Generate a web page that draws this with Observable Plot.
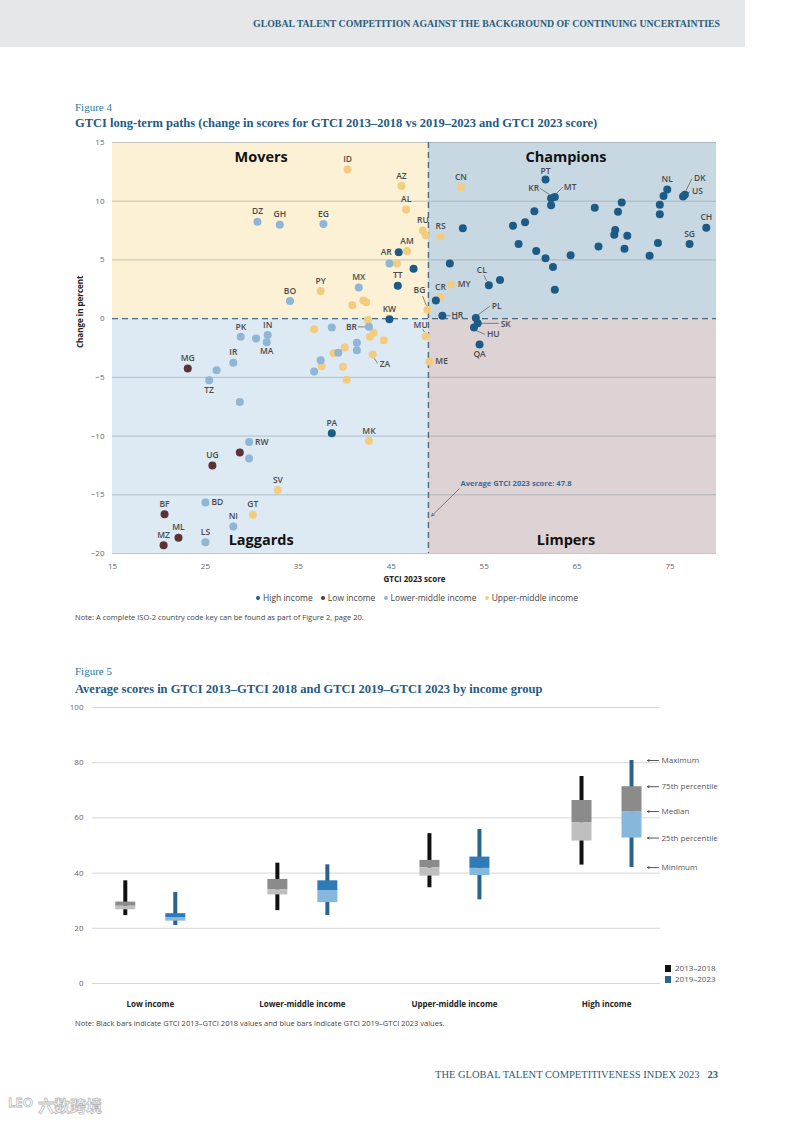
<!DOCTYPE html>
<html><head><meta charset="utf-8">
<script src="https://cdn.jsdelivr.net/npm/d3@7"></script>
<script src="https://cdn.jsdelivr.net/npm/@observablehq/plot@0.6"></script>
<style>
body{margin:0;width:793px;height:1122px;position:relative;background:#fff;font-family:"Open Sans",sans-serif;overflow:hidden}
.abs{position:absolute;white-space:nowrap;line-height:1}
.serif{font-family:"Liberation Serif",serif}
.fig{color:#2b7a9e;font-size:11px}
.ttl{color:#1f5a85;font-weight:700;font-size:12.5px}
.note{font-size:7.5px;color:#444}
.leg{font-size:8.5px;color:#444}
.leg i{display:inline-block;width:4px;height:4px;border-radius:50%;margin:0 3px 1px 6px;vertical-align:middle}
svg{overflow:visible}
</style></head><body>
<div class="abs" style="left:0;top:0;width:745px;height:47px;background:#e6e7e8"></div>
<div class="abs serif" style="right:73px;top:19px;font-size:9.8px;color:#2b5d7d;font-weight:700">GLOBAL TALENT COMPETITION AGAINST THE BACKGROUND OF CONTINUING UNCERTAINTIES</div>

<div class="abs serif fig" style="left:75px;top:102px">Figure 4</div>
<div class="abs serif ttl" style="left:75px;top:117px">GTCI long-term paths (change in scores for GTCI 2013–2018 vs 2019–2023 and GTCI 2023 score)</div>
<div id="scatter" class="abs" style="left:0;top:135px"></div>
<div id="legend1" class="abs leg" style="left:0;width:828px;top:594px;text-align:center"></div>
<div class="abs note" style="left:75px;top:614px">Note: A complete ISO-2 country code key can be found as part of Figure 2, page 20.</div>

<div class="abs serif fig" style="left:75px;top:666px">Figure 5</div>
<div class="abs serif ttl" style="left:75px;top:683px">Average scores in GTCI 2013–GTCI 2018 and GTCI 2019–GTCI 2023 by income group</div>
<div id="box" class="abs" style="left:0;top:698px"></div>
<div id="legend2" class="abs" style="left:665px;top:962px;font-size:8px;color:#555;line-height:11px"></div>
<div class="abs note" style="left:75px;top:1020px">Note: Black bars indicate GTCI 2013–GTCI 2018 values and blue bars indicate GTCI 2019–GTCI 2023 values.</div>

<div class="abs serif" style="right:75px;top:1070px;font-size:10.5px;color:#2b5d7d">THE GLOBAL TALENT COMPETITIVENESS INDEX 2023 &nbsp;&nbsp;<b>23</b></div>
<div class="abs" style="left:38px;top:1097px;font-family:'Noto Sans CJK SC';font-size:16px;color:#fff;-webkit-text-stroke:0.8px #bbb;font-weight:700">六数跨境</div>
<div class="abs" style="left:8px;top:1096px;font-size:13px;color:#fff;-webkit-text-stroke:0.8px #bbb;font-weight:700">LEO</div>

<script>
// ---------- Figure 4 data: [ISO code (blank = unlabelled), GTCI 2023 score, change %, income] ----------
const movers = [
  ["ID",40.3,12.7,"UM"],["AZ",46.1,11.3,"UM"],["AL",46.6,9.3,"UM"],["DZ",30.6,8.25,"LM"],["GH",33.0,8.0,"LM"],
  ["EG",37.7,8.05,"LM"],["RU",48.4,7.5,"UM"],["",48.7,7.1,"UM"],["AM",46.7,5.75,"UM"],["AR",45.8,5.65,"H"],
  ["",44.8,4.7,"LM"],["",45.6,4.7,"UM"],["",47.4,4.25,"H"],["TT",45.7,2.8,"H"],["MX",41.5,2.65,"LM"],
  ["PY",37.4,2.35,"UM"],["BO",34.1,1.5,"LM"],["",40.8,1.15,"UM"],["",42.0,1.55,"UM"],["",42.3,1.4,"UM"],
  ["BG",48.9,0.75,"UM"],["KW",44.8,-0.05,"H"],["",42.5,-0.12,"UM"]
];
const champions = [
  ["CN",52.5,11.2,"UM"],["RS",50.3,7.0,"UM"],["",52.7,7.7,"H"],["PT",61.6,11.85,"H"],["KR",62.2,10.25,"H"],
  ["MT",62.6,10.35,"H"],["",62.2,9.65,"H"],["",60.4,9.15,"H"],["",59.4,8.2,"H"],["",58.1,7.9,"H"],
  ["",58.7,6.35,"H"],["",60.6,5.75,"H"],["",61.6,5.15,"H"],["",64.3,5.4,"H"],["",62.4,4.4,"H"],
  ["",62.6,2.45,"H"],["",66.9,9.45,"H"],["",69.8,9.9,"H"],["",69.4,9.1,"H"],["",69.1,7.55,"H"],
  ["",69.0,7.15,"H"],["",70.4,7.05,"H"],["",67.3,6.15,"H"],["",70.1,5.95,"H"],["",72.8,5.35,"H"],
  ["",73.7,6.45,"H"],["",73.9,8.9,"H"],["",73.9,9.7,"H"],["",74.3,10.45,"H"],["NL",74.7,11.0,"H"],
  ["DK",76.6,10.55,"H"],["US",76.4,10.4,"H"],["SG",77.1,6.35,"H"],["CH",78.9,7.75,"H"],["",51.3,4.7,"H"],
  ["CL",55.5,2.85,"H"],["",56.7,3.3,"H"],["MY",51.4,2.9,"UM"],["CR",50.3,1.85,"UM"],["",49.8,1.55,"H"],
  ["HR",50.5,0.25,"H"],["PL",54.1,0.05,"H"]
];
const limpers = [
  ["SK",54.3,-0.4,"H"],["HU",53.9,-0.75,"H"],["QA",54.5,-2.2,"H"],["MU",48.7,-1.5,"UM"],["ME",49.1,-3.65,"UM"]
];
const laggards = [
  ["PK",28.8,-1.55,"LM"],["",30.45,-1.7,"LM"],["IN",31.7,-1.4,"LM"],["MA",31.6,-2.0,"LM"],["IR",28.0,-3.75,"LM"],
  ["MG",23.1,-4.25,"L"],["",26.2,-4.4,"LM"],["TZ",25.4,-5.25,"LM"],["",28.7,-7.1,"LM"],["RW",29.7,-10.5,"LM"],
  ["",28.7,-11.4,"L"],["",29.7,-11.9,"LM"],["UG",25.75,-12.5,"L"],["SV",32.8,-14.6,"UM"],["BD",25.0,-15.65,"LM"],
  ["BF",20.6,-16.65,"L"],["GT",30.1,-16.7,"UM"],["NI",28.0,-17.7,"LM"],["ML",22.1,-18.65,"L"],["MZ",20.5,-19.3,"L"],
  ["LS",25.0,-19.05,"LM"],["PA",38.6,-9.75,"H"],["MK",42.6,-10.4,"UM"],["",36.7,-0.9,"UM"],["",38.6,-0.75,"LM"],
  ["BR",42.6,-0.7,"LM"],["",42.7,-1.55,"UM"],["",43.1,-1.2,"UM"],["",44.2,-1.85,"UM"],["",41.3,-2.05,"LM"],
  ["",41.3,-2.7,"LM"],["",40.0,-2.45,"UM"],["",38.8,-2.95,"UM"],["",39.3,-2.9,"LM"],["ZA",43.0,-3.05,"UM"],
  ["",37.4,-3.55,"LM"],["",37.5,-4.05,"UM"],["",39.8,-4.1,"UM"],["",36.7,-4.5,"LM"],["",40.2,-5.2,"UM"]
];
const incomeNames = {H:"High income", L:"Low income", LM:"Lower-middle income", UM:"Upper-middle income"};
const incomeOrder = ["H","L","LM","UM"];
const xTicks = [15,25,35,45,55,65,75];
const yTicks = [-20,-15,-10,-5,0,5,10,15];
const avgLineX = 49.0;          // where the dashed "average" line is drawn in the original
const avgLabel = "Average GTCI 2023 score: 47.8";
const quadrantNames = ["Movers","Champions","Laggards","Limpers"];

// ---------- Figure 5 data ----------
const incomeGroups = ["Low income","Lower-middle income","Upper-middle income","High income"];
const periods = ["2013–2018","2019–2023"];
const boxGroup  = [0,0,1,1,2,2,3,3];
const boxPeriod = [0,1,0,1,0,1,0,1];
const boxMin    = [24.6,21.0,26.4,24.6,34.7,30.3,42.9,42.0];
const boxQ1     = [26.7,22.6,32.1,29.3,38.9,39.1,51.6,52.7];
const boxMedian = [28.0,23.9,34.0,33.7,41.9,41.7,58.3,62.3];
const boxQ3     = [29.5,25.3,37.7,37.2,44.6,45.8,66.3,71.3];
const boxMax    = [37.2,33.0,43.6,43.0,54.3,55.8,75.0,80.8];
const boxYTicks = [0,20,40,60,80,100];
const statNames = ["Maximum","75th percentile","Median","25th percentile","Minimum"];

// ---------- styles / layout ----------
const incomeColors = {H:"#1d5b87", L:"#5b3238", LM:"#8fb5d7", UM:"#f3cc80"};
const quadFill = {Movers:"#fcf1d5", Champions:"#c7d8e3", Laggards:"#dde9f3", Limpers:"#ddd2d4"};
const W = 793;
const S = {H:455, mL:112, mR:77, mT:7, mB:37, x0:15, x1:80, y0:-20, y1:15};
const kx = (W - S.mL - S.mR) / (S.x1 - S.x0);
const ky = (S.H - S.mT - S.mB) / (S.y1 - S.y0);
// label placement in pixels relative to dot: [dx, dy, anchor, leader]
const labelLayout = {
  AR:[-7,0,"end"], BG:[-8,-20,"middle",[-1,-4,-5,-14]], MY:[7,0,"start"],
  CL:[-7,-15,"middle",[-2,-4,-5,-10]], HR:[9,0,"start",[4,0,8,0]],
  PL:[16,-12,"start",[2,-3,14,-12]], SK:[23,1,"start",[4,0,21,0]], HU:[13,7,"start",[2,3,11,7]],
  QA:[0,10,"middle"], MU:[-5,-11,"middle",[-1,-4,-3,-7]], ME:[6,0,"start"],
  BR:[-12,0,"end",[-4,0,-11,0]], ZA:[7,10,"start",[1,3,5,9]],
  MA:[0,9,"middle"], TZ:[0,10,"middle"], RW:[6,0,"start"], BD:[6,0,"start"], PT:[0,-8,"middle"],
  KR:[-12,-10,"end",[-11,-10,-2,-4]], MT:[9,-10,"start",[2,-4,8,-10]],
  DK:[9,-16,"start",[1,-4,7,-16]], US:[9,-5,"start",[3,-2,7,-5]]
};
const defaultLayout = [0,-10,"middle"];

const pts = [...movers, ...champions, ...limpers, ...laggards].map(r=>({code:r[0], x:r[1], y:r[2], inc:r[3]}));
const labeled = pts.filter(d=>d.code).map(d=>{
  const L = labelLayout[d.code] || defaultLayout;
  return {...d, lx:d.x + L[0]/kx, ly:d.y - L[1]/ky, anchor:L[2], leader:L[3]};
});
const leaders = labeled.filter(d=>d.leader).map(d=>({
  x1:d.x + d.leader[0]/kx, y1:d.y - d.leader[1]/ky, x2:d.x + d.leader[2]/kx, y2:d.y - d.leader[3]/ky}));

const quads = [
  {name:"Movers", x1:S.x0, x2:avgLineX, y1:0, y2:S.y1, lx:(S.x0+avgLineX)/2 - 1, ly:13.75},
  {name:"Champions", x1:avgLineX, x2:S.x1, y1:0, y2:S.y1, lx:(avgLineX+S.x1)/2 - 0.7, ly:13.75},
  {name:"Laggards", x1:S.x0, x2:avgLineX, y1:S.y0, y2:0, lx:(S.x0+avgLineX)/2 - 1, ly:-18.9},
  {name:"Limpers", x1:avgLineX, x2:S.x1, y1:S.y0, y2:0, lx:(avgLineX+S.x1)/2 - 0.7, ly:-18.9}
];
const minus = d => d < 0 ? "−" + Math.abs(d) : String(d);

const marks1 = [];
quads.forEach(q => marks1.push(Plot.rect([q], {x1:"x1", x2:"x2", y1:"y1", y2:"y2", fill:quadFill[q.name]})));
marks1.push(Plot.ruleY(yTicks.filter(t=>t!==0), {stroke:"#8d9aa4", strokeOpacity:0.55, strokeWidth:1}));
marks1.push(Plot.ruleY([0], {stroke:"#4c6a80", strokeWidth:1.4, strokeDasharray:"6,4"}));
marks1.push(Plot.ruleX([avgLineX], {stroke:"#4c6a80", strokeWidth:1.4, strokeDasharray:"6,4"}));
marks1.push(Plot.text(quads, {x:"lx", y:"ly", text:"name", fontSize:14.5, fontWeight:700, fill:"#111"}));
marks1.push(Plot.link(leaders, {x1:"x1", y1:"y1", x2:"x2", y2:"y2", stroke:"#555", strokeWidth:0.7}));
["UM","LM","L","H"].forEach(k => marks1.push(Plot.dot(pts.filter(d=>d.inc===k), {x:"x", y:"y", r:4, fill:incomeColors[k]})));
["middle","start","end"].forEach(a => marks1.push(Plot.text(labeled.filter(d=>d.anchor===a),
  {x:"lx", y:"ly", text:"code", textAnchor:a, fontSize:8.5, fontWeight:600, fill:"#4a4a4a"})));
marks1.push(Plot.text([avgLabel], {x:avgLineX+3.45, y:-14.05, textAnchor:"start", fontSize:7.6, fontWeight:700, fill:"#3d6d96"}));
marks1.push(Plot.arrow([0], {x1:avgLineX+3.3, y1:-14.5, x2:avgLineX+0.35, y2:-16.8, stroke:"#3d6d96", strokeWidth:0.8, headLength:5}));
marks1.push(Plot.axisX({ticks:xTicks, tickSize:0, tickPadding:10, label:null, fontSize:8, fill:"#666"}));
marks1.push(Plot.axisY({ticks:yTicks, tickSize:0, tickPadding:8, label:null, tickFormat:minus, fontSize:8, fill:"#666"}));
marks1.push(Plot.text(["GTCI 2023 score"], {frameAnchor:"bottom", dy:28, fontSize:8, fontWeight:700, fill:"#222"}));
marks1.push(Plot.text(["Change in percent"], {frameAnchor:"left", dx:-32, rotate:-90, fontSize:8, fontWeight:700, fill:"#222"}));

const chart1 = Plot.plot({
  width:W, height:S.H, marginLeft:S.mL, marginRight:S.mR, marginTop:S.mT, marginBottom:S.mB,
  x:{domain:[S.x0,S.x1]}, y:{domain:[S.y0,S.y1]},
  style:{fontFamily:"Open Sans", background:"transparent"},
  marks:marks1
});
document.getElementById("scatter").appendChild(chart1);
document.getElementById("legend1").innerHTML = incomeOrder.map(k =>
  `<i style="background:${incomeColors[k]}"></i>${incomeNames[k]}`).join(" ");

// ---------- Figure 5 ----------
const B = {H:314, mL:92, mR:133, mT:9, mB:29};
const bx0 = -0.38, bx1 = 3.355;
const kb = (W - B.mL - B.mR) / (bx1 - bx0);
const seriesOffset = 25 / kb;
const boxes = boxGroup.map((g,i)=>({g, p:boxPeriod[i], x:g + (boxPeriod[i] ? seriesOffset : -seriesOffset),
  min:boxMin[i], q1:boxQ1[i], med:boxMedian[i], q3:boxQ3[i], max:boxMax[i]}));
const whiskerColor = p => p ? "#2c6389" : "#111";
const upperColor = d => d.p === 0 || d.g === 3 ? "#8b8b8b" : "#2f7bb7";
const lowerColor = d => d.p === 0 ? "#bfbfbf" : "#86b7dc";
const hi = boxes[7];
const stats = statNames.map((n,i)=>({name:n, v:[hi.max, hi.q3, hi.med, hi.q1, hi.min][i]}));

const marks2 = [
  Plot.gridY({ticks:boxYTicks, stroke:"#d3d8dc", strokeOpacity:1, strokeWidth:1}),
  Plot.ruleX(boxes, {x:"x", y1:"min", y2:"max", stroke:d=>whiskerColor(d.p), strokeWidth:4}),
  ...boxes.map(d => Plot.ruleX([d], {x:"x", y1:"med", y2:"q3", stroke:upperColor(d), strokeWidth:20})),
  ...boxes.map(d => Plot.ruleX([d], {x:"x", y1:"q1", y2:"med", stroke:lowerColor(d), strokeWidth:20})),
  Plot.arrow(stats, {x1:hi.x + 27/kb, x2:hi.x + 16/kb, y1:"v", y2:"v", stroke:"#444", strokeWidth:0.9, headLength:3}),
  Plot.text(stats, {x:hi.x + 30/kb, y:"v", text:"name", textAnchor:"start", fontSize:8, fill:"#555"}),
  Plot.axisX({ticks:[0,1,2,3], tickFormat:i=>incomeGroups[i], tickSize:0, tickPadding:18, label:null, fontSize:8, fontWeight:700, fill:"#222"}),
  Plot.axisY({ticks:boxYTicks, tickSize:0, tickPadding:9, label:null, fontSize:8, fill:"#666"})
];
const chart2 = Plot.plot({
  width:W, height:B.H, marginLeft:B.mL, marginRight:B.mR, marginTop:B.mT, marginBottom:B.mB,
  x:{domain:[bx0,bx1]}, y:{domain:[0,100]},
  style:{fontFamily:"Open Sans", background:"transparent"},
  marks:marks2
});
document.getElementById("box").appendChild(chart2);
document.getElementById("legend2").innerHTML = periods.map((p,i)=>
  `<div><span style="display:inline-block;width:6px;height:7px;background:${whiskerColor(i)};margin-right:4px;vertical-align:-1px"></span>${p}</div>`).join("");
</script>
</body></html>
